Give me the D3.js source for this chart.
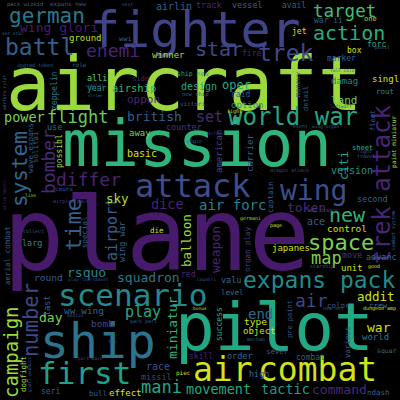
<!DOCTYPE html>
<html>
<head>
<meta charset="utf-8">
<script src="https://cdn.jsdelivr.net/npm/d3@7"></script>
<style>
html, body { margin: 0; padding: 0; background: #000; }
</style>
</head>
<body>
<svg id="cloud" width="400" height="400"></svg>
<script>
// words in the cloud, biggest first
var words = [
  "aircraft", "fighter", "mission", "plane", "pilot", "ship", "attack", "wing", "scenario", "first",
  "air", "combat", "expans pack", "trek attack", "world war", "target", "action", "star", "trek", "german",
  "battl", "enemi", "wing glori", "campaign", "number", "system", "bomber", "differ", "time", "airport",
  "space", "new", "map", "air", "power", "flight", "sky", "dice", "air forc", "token",
  "balloon", "weapon", "squadron", "rsquo", "play", "miniatur", "end", "addit", "war", "mani",
  "movement", "tactic", "command", "day", "british", "set", "oper", "design", "land", "damag",
  "singl", "airship", "oppon", "option", "raid", "counter", "away", "version", "control", "japanes",
  "ace", "second", "move", "advanc", "unit", "citi", "sheet", "american", "carrier", "captain",
  "organ play", "basic", "die", "special", "wing war", "larg", "aerial combat", "possibl", "solitai", "wave expans",
  "zeppelin", "alli", "year", "ground", "wwi", "use", "winner", "fire", "airlin", "track",
  "vessel", "avail", "war ii", "one", "jet", "forc", "box", "marker", "maneuv", "detail",
  "rout", "fleet", "side", "round", "last", "ww wing", "bomb", "red", "valu", "level",
  "success", "type", "object", "pre paint", "color", "crew", "world", "various", "squar", "sever",
  "combat", "skill", "order", "race", "high", "missil", "piec", "effect", "bull", "seri",
  "ndash", "dogfight", "giori product", "top", "part wave", "pack part", "play tournament", "countri", "mechan", "new set",
  "dungeon amp", "bonus", "destin", "starship", "good", "amp dragon", "dragon attack", "page", "germani", "right",
  "travel", "paint miniatur", "combat system", "collect", "line", "cours", "airpian pack", "prize month", "pack wizkid", "expans new",
  "set star", "upgrad token", "role", "perform rular", "complet", "strike", "ship new", "new ship", "victori", "fight",
  "defens", "full color", "luftwaff", "event", "wing organ", "posit", "next", "engin"
];

// weight of each word (font size it gets)
var weights = [
  74, 50, 64, 102, 66, 48, 32, 28, 31, 31,
  33, 33, 23, 24, 24, 17.5, 20, 20, 23, 21,
  23, 18, 13, 19, 20.5, 21, 18, 18, 22, 15,
  22, 20, 17, 18, 13.5, 17, 12.5, 13.5, 14, 13,
  12.5, 13, 13, 13, 15, 13, 14, 12.5, 13, 17,
  13.5, 13.5, 13, 13, 13, 15, 12, 10, 11, 9,
  9, 10.5, 11, 9, 8, 8.5, 9, 10, 9.5, 9,
  10, 8.5, 8.5, 8.5, 9, 12, 7, 9, 9, 7.5,
  7.5, 10, 7.5, 7.5, 8.5, 8.5, 7.5, 8, 7.5, 7.5,
  8, 8.5, 8, 9, 7, 8.5, 9, 8, 10, 8.5,
  8.5, 8, 8, 7, 8, 8, 8, 8, 7, 7,
  7.5, 7, 7, 9.5, 8.5, 9.5, 9.5, 8, 8.5, 7.5,
  8, 9.5, 9, 7, 7.5, 7.5, 9, 7.5, 6.5, 7.5,
  8, 8, 8.5, 10, 8.5, 8.5, 6, 9, 7.5, 8,
  7.5, 7.5, 4.5, 4.5, 4.5, 5, 4.5, 4.5, 5, 5,
  5, 4.5, 4.5, 5, 5, 5, 5, 5, 5, 5,
  5, 6.2, 5, 5, 4.5, 6, 5, 4.5, 5.5, 6,
  4.5, 5, 6, 4.5, 4.5, 4, 6.5, 5.5, 6, 5,
  5, 4.5, 4.5, 5, 4.5, 5, 4.5, 5
];

// colour value on the viridis ramp
var shades = [
  .85, .2, .65, .07, .6, .38, .23, .24, .47, .57,
  .93, .93, .48, .1, .6, .7, .62, .22, .22, .4,
  .3, .1, .08, .85, .22, .33, .12, .1, .3, .3,
  .8, .65, .8, .2, .8, .78, .88, .1, .45, .12,
  .85, .1, .4, .45, .6, .65, .35, .93, .93, .6,
  .6, .55, .12, .8, .3, .12, .6, .6, .78, .45,
  .93, .65, .1, .5, .3, .15, .8, .5, .93, .93,
  .3, .3, .15, .35, .93, .6, .65, .2, .3, .3,
  .2, .93, .93, .3, .3, .45, .3, .85, .3, .3,
  .4, .75, .55, .9, .3, .35, .88, .1, .3, .12,
  .3, .3, .3, .88, .93, .6, .93, .3, .3, .3,
  .45, .3, .1, .3, .3, .3, .2, .12, .35, .35,
  .6, .93, .93, .3, .25, .4, .4, .3, .35, .3,
  .3, .1, .35, .25, .35, .2, .9, .95, .3, .3,
  .3, .85, .3, .3, .2, .3, .2, .3, .3, .3,
  .93, .9, .3, .3, .93, .2, .2, .93, .85, .3,
  .3, .85, .3, .3, .85, .3, .2, .1, .3, .3,
  .3, .3, .3, .3, .3, .3, .6, .3, .3, .93,
  .1, .3, .3, .3, .3, .3, .3, .3
];

// where the cloud layout put each word (text start, baseline)
var layoutX = [
  6, 90, 62, 3, 175, 40, 135, 280, 58, 38,
  193, 258, 243, 390, 228, 313, 313, 195, 258, 9,
  5, 86, 20, 18, 38, 27, 55, 56, 81, 117,
  308, 329, 311, 295, 4, 47, 106, 151, 199, 287,
  191, 220, 117, 67, 125, 177, 248, 357, 367, 141,
  186, 261, 312, 39, 127, 196, 222, 181, 331, 331,
  372, 112, 127, 231, 231, 166, 129, 331, 327, 272,
  307, 357, 342, 366, 341, 348, 352, 222, 253, 273,
  250, 127, 150, 87, 125, 22, 10, 62, 38, 33,
  57, 87, 87, 69, 119, 47, 152, 242, 156, 196,
  232, 282, 314, 364, 292, 367, 347, 327, 300, 308,
  376, 375, 132, 34, 50, 64, 91, 181, 221, 221,
  222, 244, 243, 292, 327, 369, 362, 350, 377, 266,
  296, 189, 227, 146, 249, 141, 176, 109, 89, 41,
  367, 26, 31, 108, 78, 130, 68, 197, 247, 323,
  363, 193, 67, 310, 368, 308, 270, 270, 240, 357,
  357, 396, 395, 23, 25, 55, 53, 6, 7, 50,
  2, 17, 72, 6, 85, 88, 177, 182, 180, 227,
  207, 330, 330, 293, 312, 375, 122, 187
];
var layoutY = [
  110, 47, 166, 270, 350, 358, 197, 200, 306, 384,
  381, 381, 288, 264, 125, 17, 40, 56, 61, 23,
  55, 57, 32, 398, 357, 207, 194, 186, 251, 261,
  250, 222, 264, 307, 122, 123, 203, 209, 210, 212,
  267, 273, 282, 277, 317, 359, 319, 301, 332, 393,
  394, 394, 394, 322, 121, 122, 89, 90, 104, 84,
  82, 92, 103, 108, 97, 130, 136, 174, 232, 251,
  225, 202, 258, 260, 271, 180, 150, 173, 172, 213,
  272, 157, 233, 248, 262, 246, 285, 168, 163, 173,
  110, 81, 91, 41, 41, 130, 58, 56, 10, 8,
  8, 8, 23, 21, 34, 47, 53, 61, 97, 111,
  94, 131, 81, 281, 316, 314, 327, 277, 283, 295,
  341, 325, 334, 338, 308, 308, 340, 358, 353, 354,
  360, 359, 359, 370, 377, 380, 375, 396, 396, 394,
  395, 392, 392, 343, 360, 323, 281, 281, 341, 310,
  310, 310, 317, 268, 268, 212, 172, 227, 220, 153,
  158, 168, 250, 233, 197, 191, 203, 210, 6, 6,
  35, 67, 67, 110, 87, 97, 76, 96, 106, 113,
  135, 72, 108, 128, 128, 49, 6, 143
];
// 1 = turned to read bottom-to-top
var upright = [
  0, 0, 0, 0, 0, 0, 0, 0, 0, 0,
  0, 0, 0, 1, 0, 0, 0, 0, 0, 0,
  0, 0, 0, 1, 1, 1, 1, 0, 1, 1,
  0, 0, 0, 0, 0, 0, 0, 0, 0, 0,
  1, 1, 0, 0, 0, 1, 0, 0, 0, 0,
  0, 0, 0, 0, 0, 0, 0, 0, 0, 0,
  0, 0, 0, 0, 0, 0, 0, 0, 0, 0,
  0, 0, 0, 0, 0, 1, 0, 1, 1, 1,
  1, 0, 0, 1, 1, 0, 1, 1, 1, 1,
  1, 0, 0, 0, 0, 0, 0, 0, 0, 0,
  0, 0, 0, 0, 0, 0, 0, 0, 1, 1,
  0, 1, 0, 0, 1, 0, 0, 0, 0, 0,
  1, 0, 0, 1, 0, 0, 0, 1, 0, 0,
  0, 0, 0, 0, 0, 0, 0, 0, 0, 0,
  0, 1, 1, 0, 0, 0, 0, 0, 0, 0,
  0, 0, 0, 0, 0, 0, 0, 0, 0, 0,
  0, 1, 1, 0, 0, 0, 0, 1, 0, 0,
  0, 0, 0, 1, 0, 0, 0, 0, 0, 0,
  0, 0, 0, 0, 0, 0, 0, 0
];

var W = 400, H = 400;
var svg = d3.select("#cloud");

svg.append("rect").attr("width", W).attr("height", H).attr("fill", "#000");

var x = d3.scaleLinear().domain([0, 400]).range([0, W]);
var y = d3.scaleLinear().domain([0, 400]).range([0, H]);
var size = d3.scaleLinear().domain([0, 100]).range([0, 100]);
var color = d3.scaleSequential(d3.interpolateViridis).domain([0, 1]);

var cloud = words.map((w, i) => ({
  text: w,
  weight: weights[i],
  shade: shades[i],
  px: layoutX[i],
  py: layoutY[i],
  rot: upright[i] ? -90 : 0
}));

svg.append("g")
  .selectAll("text")
  .data(cloud)
  .join("text")
    .attr("transform", d => "translate(" + x(d.px) + "," + y(d.py) + ") rotate(" + d.rot + ")")
    .attr("font-family", "'DejaVu Sans Mono', monospace")
    .attr("font-size", d => size(d.weight))
    .attr("fill", d => color(d.shade))
    .text(d => d.text);
</script>
</body>
</html>
